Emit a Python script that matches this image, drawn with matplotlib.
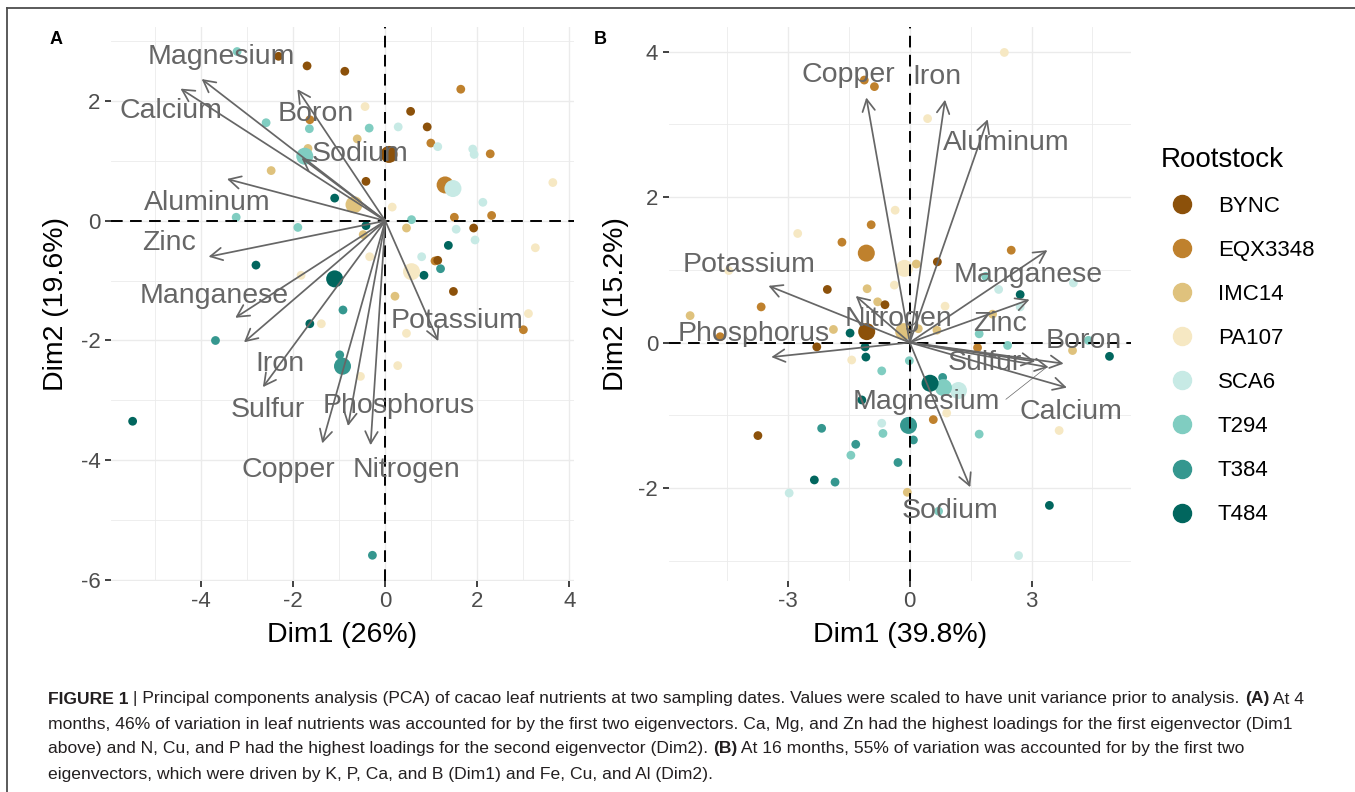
import matplotlib
matplotlib.use('Agg')
import matplotlib.pyplot as plt
from matplotlib.lines import Line2D
from matplotlib.ticker import MultipleLocator

plt.rcParams['font.family'] = ['Liberation Sans', 'DejaVu Sans']
plt.rcParams['axes.unicode_minus'] = False

W, H = 1355, 792

rootstocks = ['BYNC', 'EQX3348', 'IMC14', 'PA107', 'SCA6', 'T294', 'T384', 'T484']
palette = ['#8C510A', '#BF812D', '#DFC27D', '#F6E8C3', '#C7EAE5', '#80CDC1', '#35978F', '#01665E']

# ---- panel A: 4 months ----
a_x = [-3.22, -2.32, -1.70, -0.88, 1.64, -0.44, 0.55, -2.59, -1.64, -1.65,
       -0.35, 0.28, 0.91, -0.61, 0.99, 1.14, 1.90, 1.93, 2.28, -1.68,
       -2.48, -0.42, 3.64, -1.10, 0.15, 2.12, 1.50, 2.31, -3.24, 0.57,
       -1.90, -0.42, 0.46, 1.54, 1.92, 1.95, -0.48, 1.37, 3.26, -2.81,
       -0.34, 0.79, 1.08, 1.14, 1.20, 0.84, -1.83, 0.21, 1.48, -0.92,
       -1.64, -1.39, -3.69, 0.46, 3.11, 3.00, -0.99, -0.54, 0.27, -5.49,
       -0.28]
a_y = [2.83, 2.75, 2.59, 2.50, 2.20, 1.91, 1.83, 1.64, 1.69, 1.54,
       1.55, 1.57, 1.57, 1.37, 1.30, 1.24, 1.20, 1.11, 1.12, 1.21,
       0.84, 0.66, 0.64, 0.38, 0.23, 0.31, 0.06, 0.09, 0.06, 0.02,
       -0.11, -0.08, -0.12, -0.14, -0.12, -0.32, -0.23, -0.41, -0.45, -0.74,
       -0.60, -0.60, -0.67, -0.66, -0.80, -0.91, -0.91, -1.26, -1.18, -1.49,
       -1.72, -1.72, -2.00, -1.88, -1.55, -1.82, -2.24, -2.60, -2.42, -3.35,
       -5.59]
a_grp = ['T294', 'BYNC', 'BYNC', 'BYNC', 'EQX3348', 'PA107', 'BYNC', 'T294', 'EQX3348', 'T294',
         'T294', 'SCA6', 'BYNC', 'IMC14', 'EQX3348', 'SCA6', 'SCA6', 'SCA6', 'EQX3348', 'IMC14',
         'IMC14', 'BYNC', 'PA107', 'T484', 'PA107', 'SCA6', 'EQX3348', 'EQX3348', 'T294', 'T294',
         'T294', 'T484', 'IMC14', 'SCA6', 'BYNC', 'SCA6', 'IMC14', 'T484', 'PA107', 'T484',
         'PA107', 'SCA6', 'EQX3348', 'BYNC', 'T384', 'T484', 'PA107', 'IMC14', 'BYNC', 'T384',
         'T484', 'PA107', 'T384', 'PA107', 'PA107', 'EQX3348', 'T384', 'PA107', 'PA107', 'T484',
         'T384']
a_mean_x = [0.08, 1.30, -0.68, 0.57, 1.47, -1.75, -0.93, -1.10]
a_mean_y = [1.11, 0.60, 0.27, -0.85, 0.54, 1.08, -2.43, -0.97]

a_vars = ['Magnesium', 'Calcium', 'Boron', 'Sodium', 'Aluminum', 'Zinc', 'Manganese',
          'Iron', 'Sulfur', 'Copper', 'Phosphorus', 'Nitrogen', 'Potassium']
a_load_x = [-3.99, -4.45, -1.91, -1.82, -3.44, -3.84, -3.26, -3.07, -2.66, -1.37, -0.81, -0.32, 1.15]
a_load_y = [2.37, 2.21, 2.20, 1.05, 0.70, -0.60, -1.62, -2.03, -2.78, -3.72, -3.43, -3.75, -2.01]
a_lab_x = [-3.57, -4.66, -1.52, -0.55, -3.86, -4.69, -3.71, -2.30, -2.55, -2.11, 0.28, 0.46, 1.57]
a_lab_y = [2.74, 1.83, 1.79, 1.11, 0.29, -0.37, -1.26, -2.40, -3.16, -4.16, -3.09, -4.17, -1.68]

# ---- panel B: 16 months ----
b_x = [2.33, -1.12, -0.87, 0.44, -0.36, -0.95, -2.76, -1.67, 2.50, 0.16,
       0.68, -4.46, 1.87, 2.19, 4.03, -2.03, -1.05, -0.38, 2.72, -3.66,
       -0.79, -0.61, 0.87, -5.41, -4.67, -2.29, -1.88, -1.47, -1.10, -1.08,
       -1.43, -0.69, -0.01, 0.21, 0.67, 2.04, 1.71, 1.67, 2.41, 2.72,
       4.40, 4.01, 4.92, 0.81, -1.18, 0.58, 0.91, -0.69, -0.66, 0.09,
       -2.17, -3.74, 1.71, 3.68, -1.33, -1.45, -0.29, -2.35, -1.84, -2.97,
       -0.06, 0.71, 3.44, 2.68]
b_y = [3.99, 3.61, 3.52, 3.08, 1.82, 1.62, 1.50, 1.38, 1.27, 1.08,
       1.11, 0.99, 0.91, 0.73, 0.82, 0.73, 0.74, 0.79, 0.66, 0.49,
       0.56, 0.52, 0.50, 0.37, 0.08, -0.06, 0.18, 0.13, -0.06, -0.20,
       -0.24, -0.39, -0.25, 0.19, 0.17, 0.39, 0.12, -0.07, -0.04, 0.49,
       0.03, -0.11, -0.19, -0.48, -0.79, -1.06, -0.97, -1.11, -1.25, -1.34,
       -1.18, -1.28, -1.26, -1.21, -1.40, -1.55, -1.65, -1.89, -1.92, -2.07,
       -2.06, -2.32, -2.24, -2.93]
b_grp = ['PA107', 'EQX3348', 'EQX3348', 'PA107', 'PA107', 'EQX3348', 'PA107', 'EQX3348', 'EQX3348', 'IMC14',
         'BYNC', 'PA107', 'T294', 'SCA6', 'SCA6', 'BYNC', 'IMC14', 'PA107', 'T484', 'EQX3348',
         'IMC14', 'BYNC', 'PA107', 'IMC14', 'EQX3348', 'BYNC', 'IMC14', 'T484', 'T484', 'T484',
         'PA107', 'T294', 'T294', 'IMC14', 'IMC14', 'IMC14', 'T294', 'EQX3348', 'T294', 'SCA6',
         'T294', 'IMC14', 'T484', 'T384', 'T484', 'EQX3348', 'PA107', 'SCA6', 'T294', 'T384',
         'T384', 'BYNC', 'T294', 'PA107', 'T384', 'T294', 'T384', 'T484', 'T384', 'SCA6',
         'IMC14', 'T294', 'T484', 'SCA6']
b_mean_x = [-1.06, -1.07, -0.15, -0.13, 1.20, 0.83, -0.03, 0.50]
b_mean_y = [0.15, 1.23, 0.15, 1.02, -0.66, -0.62, -1.14, -0.56]

b_vars = ['Copper', 'Iron', 'Aluminum', 'Potassium', 'Manganese', 'Nitrogen', 'Zinc',
          'Phosphorus', 'Boron', 'Sulfur', 'Calcium', 'Magnesium', 'Sodium']
b_load_x = [-1.07, 0.87, 1.92, -3.48, 3.39, -1.33, 2.95, -3.41, 3.79, 3.09, 3.87, 3.42, 1.49]
b_load_y = [3.37, 3.34, 3.07, 0.78, 1.27, 0.64, 0.59, -0.20, -0.29, -0.26, -0.62, -0.34, -1.99]
b_lab_x = [-1.51, 0.67, 2.37, -3.95, 2.91, -0.28, 2.23, -3.85, 4.28, 1.86, 3.97, 0.42, 0.99]
b_lab_y = [3.68, 3.65, 2.74, 1.07, 0.93, 0.32, 0.26, 0.12, 0.02, -0.28, -0.96, -0.82, -2.32]
b_leader_from = (2.37, -0.78)   # repel segment of the Magnesium label

colour_of = dict(zip(rootstocks, palette))
grey = '#666666'


def draw_panel(ax, px, py, grp, mx, my, names, lx, ly, tx, ty, xlim, ylim,
               xmaj, ymaj, xlabel, ylabel, ylab_x):
    ax.set_xlim(*xlim)
    ax.set_ylim(*ylim)
    for s in ax.spines.values():
        s.set_visible(False)
    ax.xaxis.set_major_locator(MultipleLocator(xmaj))
    ax.xaxis.set_minor_locator(MultipleLocator(xmaj / 2))
    ax.yaxis.set_major_locator(MultipleLocator(ymaj))
    ax.yaxis.set_minor_locator(MultipleLocator(ymaj / 2))
    ax.grid(which='major', color='#EBEBEB', lw=1.0, zorder=0)
    ax.grid(which='minor', color='#EBEBEB', lw=0.6, zorder=0)
    ax.set_axisbelow(True)
    ax.tick_params(which='major', length=4.5, width=1.3, color='#333333',
                   labelsize=16, labelcolor='#4D4D4D', pad=3)
    ax.tick_params(which='minor', length=0)

    ax.scatter(px, py, s=40, c=[colour_of[g] for g in grp], linewidths=0, zorder=2)
    ax.scatter(mx, my, s=150, c=palette, linewidths=0, zorder=3)

    ax.axhline(0, color='black', lw=1.4, ls=(0, (6, 3.8)), zorder=4)
    ax.axvline(0, color='black', lw=1.4, ls=(0, (6, 3.8)), zorder=4)

    for vx, vy in zip(lx, ly):
        ax.annotate('', xy=(vx, vy), xytext=(0, 0),
                    arrowprops=dict(arrowstyle='->,head_length=0.85,head_width=0.45',
                                    color=grey, lw=1.25, shrinkA=0, shrinkB=0),
                    zorder=5)
    for name, x, y in zip(names, tx, ty):
        ax.text(x, y, name, fontsize=20.5, color=grey, ha='center', va='center', zorder=6)

    ax.set_xlabel(xlabel, fontsize=20.5, color='black')
    ax.xaxis.set_label_coords(0.5, -0.098)
    ax.xaxis.label.set_va('center')
    ax.set_ylabel(ylabel, fontsize=20.5, color='black')
    ax.yaxis.set_label_coords(ylab_x, 0.5)
    ax.yaxis.label.set_va('center')


fig = plt.figure(figsize=(W / 100, H / 100), dpi=100)

ax_a = fig.add_axes([111 / W, 1 - 581 / H, 463 / W, 554 / H])
draw_panel(ax_a, a_x, a_y, a_grp, a_mean_x, a_mean_y, a_vars, a_load_x, a_load_y,
           a_lab_x, a_lab_y, (-5.96, 4.10), (-6.02, 3.24), 2, 2,
           'Dim1 (26%)', 'Dim2 (19.6%)', -0.118)

ax_b = fig.add_axes([668.6 / W, 1 - 581 / H, 462.4 / W, 554 / H])
draw_panel(ax_b, b_x, b_y, b_grp, b_mean_x, b_mean_y, b_vars, b_load_x, b_load_y,
           b_lab_x, b_lab_y, (-5.94, 5.45), (-3.28, 4.34), 3, 2,
           'Dim1 (39.8%)', 'Dim2 (15.2%)', -0.113)
ax_b.plot([b_leader_from[0], b_load_x[11] - 0.05], [b_leader_from[1], b_load_y[11]],
          color=grey, lw=0.5, zorder=5)

# panel tags
fig.text(56 / W, 1 - 40 / H, 'A', fontsize=13, fontweight='bold', ha='center', va='center')
fig.text(600 / W, 1 - 39 / H, 'B', fontsize=13, fontweight='bold', ha='center', va='center')

# legend
handles = [Line2D([], [], marker='o', ls='', markersize=13, color=c) for c in palette]
leg = fig.legend(handles, rootstocks, title='Rootstock', loc='upper left',
                 bbox_to_anchor=(1155 / W, 1 - 141 / H), frameon=False, fontsize=16,
                 title_fontsize=20, labelspacing=1.04, handletextpad=0.68,
                 handlelength=1.9, borderpad=0.25, borderaxespad=0, alignment='left')

# outer frame of the figure box
fig.add_artist(Line2D([7 / W, 1], [1 - 8 / H, 1 - 8 / H], transform=fig.transFigure,
                      color='#4D4D4D', lw=1.3))
fig.add_artist(Line2D([7 / W, 7 / W], [0, 1 - 8 / H], transform=fig.transFigure,
                      color='#4D4D4D', lw=1.3))

# caption
caption = [
    [('FIGURE 1', True), (' | Principal components analysis (PCA) of cacao leaf nutrients at two '
                          'sampling dates. Values were scaled to have unit variance prior to analysis. ', False),
     ('(A)', True), (' At 4', False)],
    [('months, 46% of variation in leaf nutrients was accounted for by the first two eigenvectors. '
      'Ca, Mg, and Zn had the highest loadings for the first eigenvector (Dim1', False)],
    [('above) and N, Cu, and P had the highest loadings for the second eigenvector (Dim2). ', False),
     ('(B)', True), (' At 16 months, 55% of variation was accounted for by the first two', False)],
    [('eigenvectors, which were driven by K, P, Ca, and B (Dim1) and Fe, Cu, and Al (Dim2).', False)],
]
cap_y = [699, 724, 749, 774]
renderer = fig.canvas.get_renderer()
for line, y in zip(caption, cap_y):
    x = 48
    for txt, bold in line:
        t = fig.text(x / W, 1 - y / H, txt, fontsize=12.6, color='#231F20',
                     fontweight='bold' if bold else 'normal', ha='left', va='center')
        x += t.get_window_extent(renderer).width

fig.savefig('out.png', dpi=100)
